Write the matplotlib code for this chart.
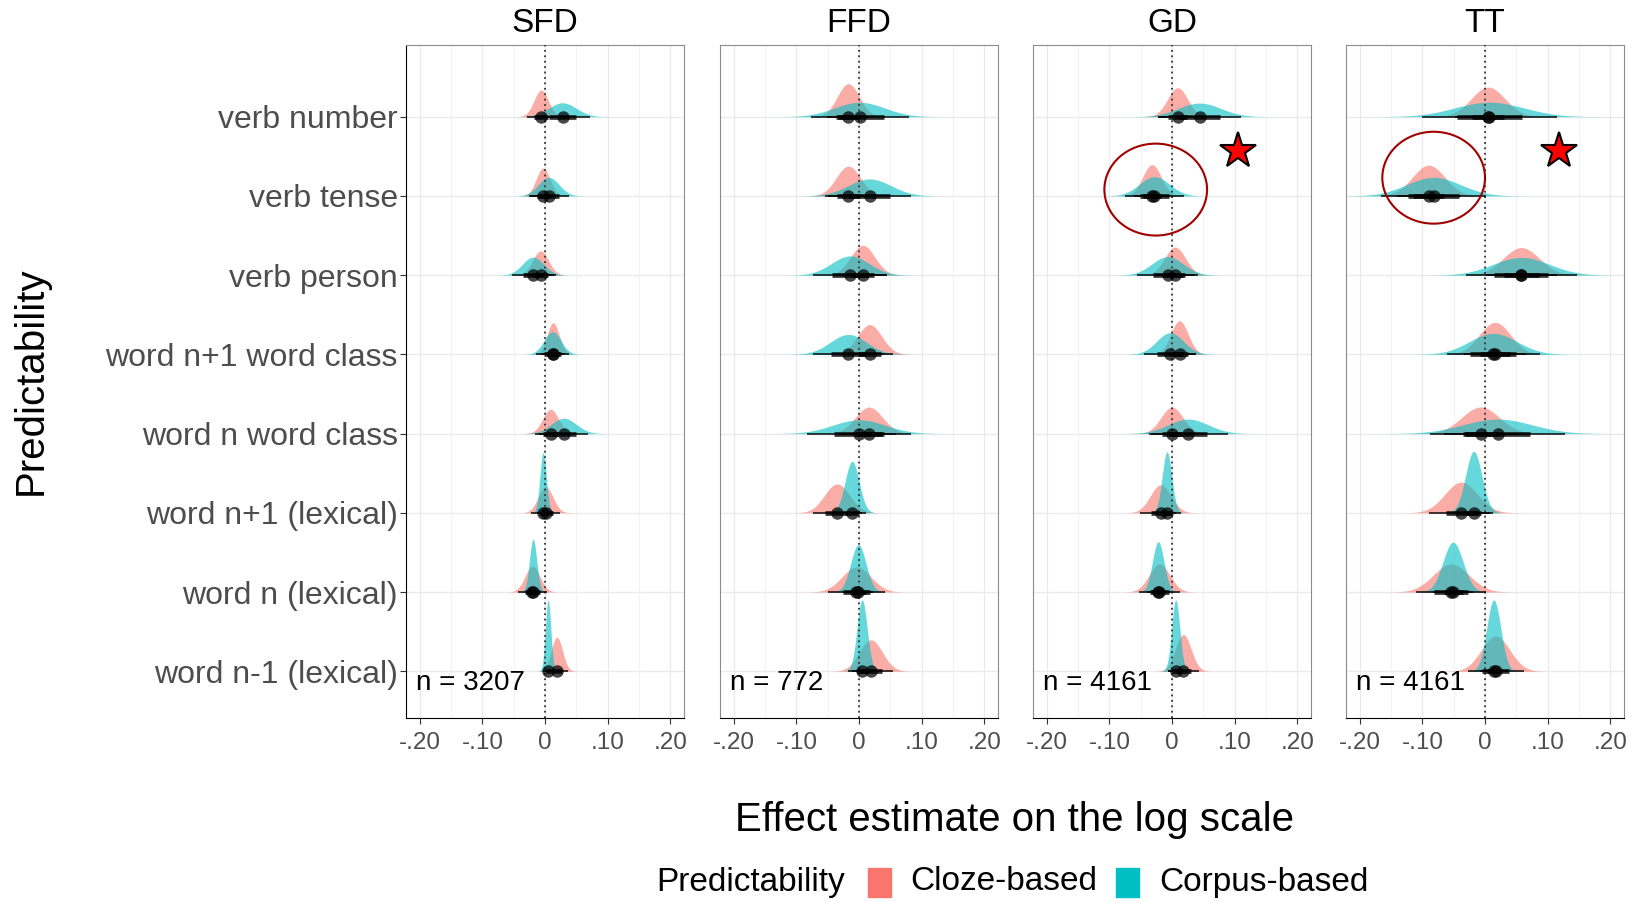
import numpy as np
import matplotlib
matplotlib.use('Agg')
import matplotlib.pyplot as plt
from matplotlib.patches import Ellipse, Rectangle

plt.rcParams['font.family'] = ['Liberation Sans', 'DejaVu Sans']

categories = ['verb number', 'verb tense', 'verb person', 'word n+1 word class',
              'word n word class', 'word n+1 (lexical)', 'word n (lexical)', 'word n-1 (lexical)']
measures = ['SFD', 'FFD', 'GD', 'TT']
n_labels = ['n = 3207', 'n = 772', 'n = 4161', 'n = 4161']
tick_vals = [-0.2, -0.1, 0, 0.1, 0.2]
tick_labels = ['-.20', '-.10', '0', '.10', '.20']

# posterior summaries (median, sd), rows top -> bottom
sfd_cloze_mean = [-0.006, -0.003, -0.007, 0.013, 0.009, 0.001, -0.020, 0.019]
sfd_cloze_sd = [0.0115, 0.011, 0.0126, 0.0097, 0.0126, 0.0118, 0.0118, 0.009]
sfd_corpus_mean = [0.028, 0.006, -0.019, 0.012, 0.030, -0.003, -0.019, 0.005]
sfd_corpus_sd = [0.022, 0.0165, 0.017, 0.0135, 0.020, 0.0051, 0.0058, 0.0043]

ffd_cloze_mean = [-0.017, -0.017, 0.006, 0.017, 0.016, -0.035, -0.004, 0.019]
ffd_cloze_sd = [0.0175, 0.0194, 0.0194, 0.0194, 0.0218, 0.020, 0.023, 0.0184]
ffd_corpus_mean = [0.001, 0.017, -0.014, -0.017, 0.0, -0.011, -0.001, 0.005]
ffd_corpus_sd = [0.040, 0.034, 0.030, 0.029, 0.042, 0.0112, 0.0122, 0.0081]

gd_cloze_mean = [0.009, -0.032, 0.005, 0.012, 0.0, -0.018, -0.020, 0.018]
gd_cloze_sd = [0.016, 0.0148, 0.0165, 0.0138, 0.0175, 0.0165, 0.0165, 0.0126]
gd_corpus_mean = [0.044, -0.028, -0.007, -0.003, 0.026, -0.008, -0.022, 0.006]
gd_corpus_sd = [0.034, 0.024, 0.025, 0.0214, 0.032, 0.0076, 0.0092, 0.0065]

tt_cloze_mean = [0.005, -0.090, 0.058, 0.016, -0.007, -0.038, -0.054, 0.017]
tt_cloze_sd = [0.027, 0.026, 0.029, 0.025, 0.030, 0.026, 0.0285, 0.0227]
tt_corpus_mean = [0.007, -0.082, 0.058, 0.013, 0.020, -0.018, -0.051, 0.014]
tt_corpus_sd = [0.055, 0.043, 0.045, 0.038, 0.055, 0.013, 0.016, 0.0112]

panels = {
    'SFD': [(sfd_cloze_mean, sfd_cloze_sd), (sfd_corpus_mean, sfd_corpus_sd)],
    'FFD': [(ffd_cloze_mean, ffd_cloze_sd), (ffd_corpus_mean, ffd_corpus_sd)],
    'GD': [(gd_cloze_mean, gd_cloze_sd), (gd_corpus_mean, gd_corpus_sd)],
    'TT': [(tt_cloze_mean, tt_cloze_sd), (tt_corpus_mean, tt_corpus_sd)],
}
colors = ['#F8766D', '#00BFC4']
legend_names = ['Cloze-based', 'Corpus-based']

W, H = 1633, 902
fig = plt.figure(figsize=(W / 100, H / 100), dpi=100)
lefts = [406, 720, 1033, 1346]
pw, top, bottom = 278, 45, 718
ypos = np.arange(len(categories), 0, -1)

axes = []
for k, m in enumerate(measures):
    ax = fig.add_axes([lefts[k] / W, 1 - bottom / H, pw / W, (bottom - top) / H])
    axes.append(ax)
    ax.set_xlim(-0.222, 0.222)
    ax.set_ylim(0.41, 8.905)
    ax.set_xticks(tick_vals)
    ax.set_xticklabels(tick_labels)
    ax.set_xticks([-0.15, -0.05, 0.05, 0.15], minor=True)
    ax.set_yticks(ypos)
    ax.grid(True, which='major', color='#EBEBEB', lw=1.0, zorder=0)
    ax.grid(True, which='minor', axis='x', color='#F3F3F3', lw=0.8, zorder=0)
    ax.set_axisbelow(True)
    ax.tick_params(axis='x', which='major', labelsize=17.5, labelcolor='#4D4D4D',
                   color='#333333', length=4, pad=6)
    ax.tick_params(axis='x', which='minor', length=0)
    if k == 0:
        ax.set_yticklabels(categories)
        ax.tick_params(axis='y', labelsize=23, labelcolor='#4D4D4D', color='#333333',
                       length=4, pad=2)
        ax.spines['left'].set_color('black')
    else:
        ax.set_yticklabels([])
        ax.tick_params(axis='y', length=0)
        ax.spines['left'].set_color('#8C8C8C')
    ax.spines['bottom'].set_color('black')
    ax.spines['top'].set_color('#8C8C8C')
    ax.spines['right'].set_color('#8C8C8C')

    series = panels[m]
    sd_min = min(min(s[1]) for s in series)
    for (means, sds), col in zip(series, colors):
        for y, mu, sd in zip(ypos, means, sds):
            x = np.linspace(mu - 3.8 * sd, mu + 3.8 * sd, 300)
            h = 0.9 * (sd_min / sd) * np.exp(-0.5 * ((x - mu) / sd) ** 2)
            ax.fill_between(x, y, y + h, color=col, alpha=0.6, lw=0, zorder=2)
    ax.axvline(0, color='#333333', ls=(0, (1, 2)), lw=1.3, zorder=3)
    for means, sds in series:
        for y, mu, sd in zip(ypos, means, sds):
            ax.plot([mu - 1.96 * sd, mu + 1.96 * sd], [y, y], color='black', lw=1.3,
                    alpha=0.8, solid_capstyle='butt', zorder=4)
            ax.plot([mu - 0.954 * sd, mu + 0.954 * sd], [y, y], color='black', lw=3.4,
                    alpha=0.8, solid_capstyle='butt', zorder=4)
            ax.plot(mu, y, 'o', color='black', ms=9, mew=0, alpha=0.72, zorder=5)
    ax.text(-0.206, 0.85, n_labels[k], fontsize=20, color='black', ha='left', va='center')
    fig.text((lefts[k] + pw / 2) / W, 1 - 23 / H, m, fontsize=24, ha='center', va='center')

# annotations on GD and TT
axes[2].add_patch(Ellipse((-0.026, 7.08), 0.164, 1.16, fill=False, ec='#A00000', lw=1.5, zorder=6))
axes[3].add_patch(Ellipse((-0.082, 7.23), 0.164, 1.16, fill=False, ec='#A00000', lw=1.5, zorder=6))
axes[2].plot(0.106, 7.57, marker='*', ms=27, mfc='red', mec='black', mew=1.5, zorder=7)
axes[3].plot(0.118, 7.57, marker='*', ms=27, mfc='red', mec='black', mew=1.5, zorder=7)

fig.text(1015 / W, 1 - 820 / H, 'Effect estimate on the log scale', fontsize=29,
         ha='center', va='center')
fig.text(31 / W, 1 - 381 / H, 'Predictability', fontsize=29, rotation=90,
         ha='center', va='center')

# legend along the bottom
ly = 1 - 882 / H
fig.text(656 / W, ly, 'Predictability', fontsize=24, ha='left', va='center')
key_x = [868, 1116]
lab_x = [910, 1159]
for kx, lx, col, name in zip(key_x, lab_x, colors, legend_names):
    fig.patches.append(Rectangle((kx / W, 1 - 897 / H), 23 / W, 29 / H, color=col,
                                 transform=fig.transFigure, figure=fig))
    fig.text(lx / W, ly, name, fontsize=24, ha='left', va='center')

fig.savefig('out.png', dpi=100)
